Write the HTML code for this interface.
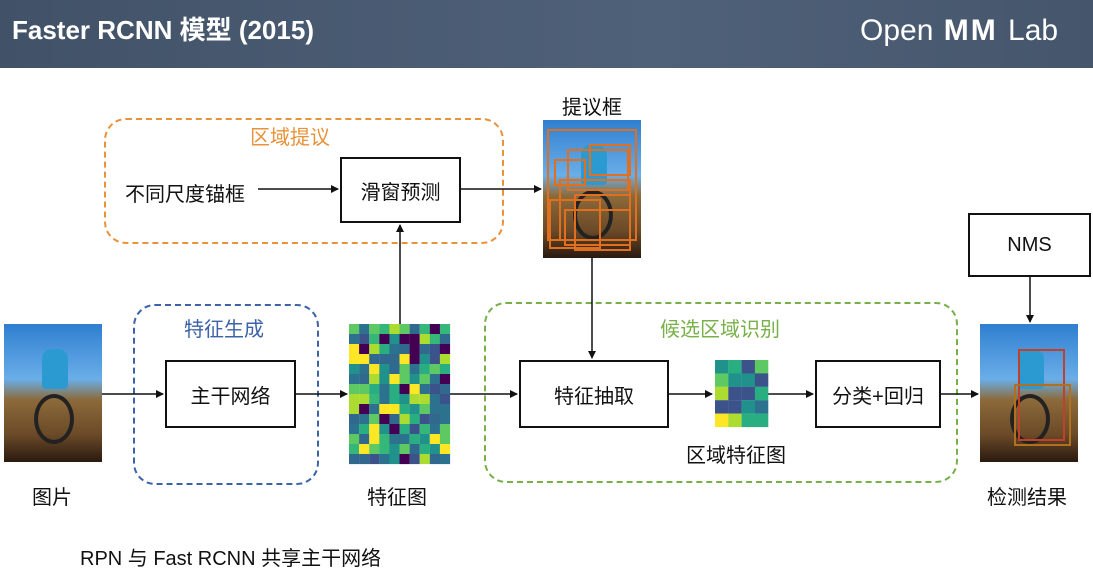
<!DOCTYPE html>
<html><head><meta charset="utf-8"><style>
body{margin:0;width:1093px;height:575px;overflow:hidden;background:#fff;font-family:"Liberation Sans","Noto Sans CJK SC",sans-serif;position:relative}
.hd{position:absolute;left:0;top:0;width:1093px;height:68px;background:linear-gradient(90deg,#415268,#4f6179 60%,#45566c)}
.t{position:absolute;white-space:nowrap;color:#111;font-size:20px}
.box{position:absolute;border:2px solid #111;background:#fff;display:flex;align-items:center;justify-content:center;font-size:20px;color:#111;box-sizing:border-box}
.dash{position:absolute;border:2px dashed;border-radius:22px;box-sizing:border-box}
.img{position:absolute;overflow:hidden;background:linear-gradient(180deg,#2f7fd0 0%,#6aaee8 40%,#8c6a3a 55%,#6b4a28 80%,#2a1a10 100%)}
.fig{position:absolute;left:38px;top:25px;width:26px;height:40px;background:#2a9ad0;border-radius:10px 10px 4px 4px}
.wh{position:absolute;left:30px;top:70px;width:40px;height:50px;border:4px solid #222;border-radius:50%;box-sizing:border-box}
</style></head><body>
<div class="hd"></div>
<div class="t" style="left:12px;top:10px;color:#fff;font-size:26px;font-weight:bold">Faster RCNN 模型 (2015)</div>
<div class="t" style="left:860px;top:14px;color:#fff;font-size:30px">Open<span style="font-weight:bold;letter-spacing:2px"> MM </span>Lab</div>

<div class="dash" style="left:104px;top:118px;width:400px;height:126px;border-color:#e8923a"></div>
<div class="t" style="left:250px;top:121px;color:#e8923a">区域提议</div>
<div class="dash" style="left:133px;top:304px;width:186px;height:181px;border-color:#3c62a8"></div>
<div class="t" style="left:184px;top:313px;color:#3c62a8">特征生成</div>
<div class="dash" style="left:484px;top:302px;width:474px;height:181px;border-color:#78b048"></div>
<div class="t" style="left:660px;top:313px;color:#78b048">候选区域识别</div>

<div class="t" style="left:125px;top:178px">不同尺度锚框</div>
<div class="box" style="left:340px;top:157px;width:121px;height:66px">滑窗预测</div>
<div class="t" style="left:562px;top:91px">提议框</div>
<div class="box" style="left:165px;top:360px;width:131px;height:68px">主干网络</div>
<div class="box" style="left:519px;top:360px;width:150px;height:68px">特征抽取</div>
<div class="box" style="left:815px;top:360px;width:126px;height:68px">分类+回归</div>
<div class="box" style="left:968px;top:213px;width:123px;height:64px">NMS</div>
<div class="t" style="left:32px;top:481px">图片</div>
<div class="t" style="left:367px;top:481px">特征图</div>
<div class="t" style="left:686px;top:439px">区域特征图</div>
<div class="t" style="left:987px;top:481px">检测结果</div>
<div class="t" style="left:80px;top:542px">RPN 与 Fast RCNN 共享主干网络</div>

<div class="img" style="left:4px;top:324px;width:98px;height:138px"><div class="fig"></div><div class="wh"></div></div>
<div class="img" style="left:543px;top:120px;width:98px;height:138px"><div class="fig"></div><div class="wh"></div></div>
<div class="img" style="left:980px;top:324px;width:98px;height:138px"><div class="fig"></div><div class="wh"></div></div>

<svg width="1093" height="575" style="position:absolute;left:0;top:0">
<defs><marker id="a" markerWidth="8" markerHeight="8" refX="7" refY="4" orient="auto" markerUnits="userSpaceOnUse"><path d="M0,0L8,4L0,8z" fill="#111"/></marker></defs>
<g stroke="#111" stroke-width="1.5" fill="none" marker-end="url(#a)">
<line x1="258" y1="189" x2="338" y2="189"/>
<line x1="461" y1="189" x2="541" y2="189"/>
<line x1="592" y1="258" x2="592" y2="358"/>
<line x1="102" y1="394" x2="163" y2="394"/>
<line x1="296" y1="394" x2="347" y2="394"/>
<line x1="400" y1="324" x2="400" y2="225"/>
<line x1="450" y1="394" x2="517" y2="394"/>
<line x1="669" y1="394" x2="712" y2="394"/>
<line x1="768" y1="394" x2="813" y2="394"/>
<line x1="941" y1="394" x2="978" y2="394"/>
<line x1="1030" y1="277" x2="1030" y2="322"/>
</g>
<g fill="none" stroke="#e07020" stroke-width="2">
<rect x="548" y="130" width="88" height="110"/><rect x="568" y="150" width="60" height="40"/><rect x="555" y="160" width="30" height="25"/><rect x="560" y="180" width="70" height="60"/><rect x="575" y="195" width="55" height="55"/><rect x="550" y="200" width="50" height="48"/><rect x="590" y="145" width="40" height="30"/><rect x="565" y="210" width="65" height="35"/>
<rect x="1019" y="350" width="45" height="90" stroke="#c0402a"/><rect x="1015" y="385" width="55" height="60" stroke="#b07020"/>
</g>
<g id="fm"></g><g id="sm"></g>
</svg>
<script>
var v=["#440154","#3b528b","#2c728e","#21918c","#28ae80","#5ec962","#addc30","#fde725","#31688e","#35b779"];
var s=7;function r(){s=(s*1103515245+12345)%2147483648;return s/2147483648;}
var h="";for(var i=0;i<14;i++)for(var j=0;j<10;j++){h+='<rect x="'+(349+j*10.1)+'" y="'+(324+i*10)+'" width="10.2" height="10.1" fill="'+v[Math.floor(r()*10)]+'"/>';}
document.getElementById("fm").innerHTML=h;
var sm=[[3,4,1,5],[5,3,3,1],[6,1,1,4],[1,1,3,2],[7,6,4,4]];h="";
for(i=0;i<5;i++)for(j=0;j<4;j++)h+='<rect x="'+(715+j*13.3)+'" y="'+(360+i*13.4)+'" width="13.4" height="13.5" fill="'+v[sm[i][j]]+'"/>';
document.getElementById("sm").innerHTML=h;
</script>
</body></html>
